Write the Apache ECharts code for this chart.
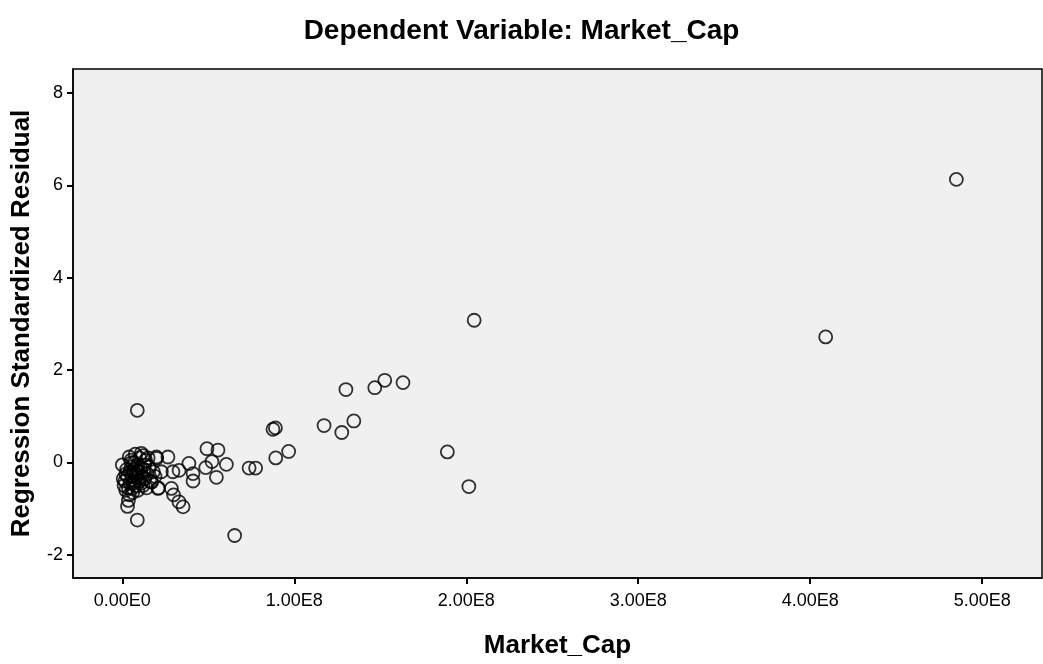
<!DOCTYPE html>
<html>
<head>
<meta charset="utf-8">
<script src="https://cdn.jsdelivr.net/npm/echarts@6/dist/echarts.min.js"></script>
<style>
  html, body { margin: 0; padding: 0; background: #fff; }
  #chart { width: 1043px; height: 664px; }
</style>
</head>
<body>
<div id="chart"></div>
<script>
// Market_Cap in units of 1E8, paired with standardized residual
var marketCap = [
    4.85, 4.09, 2.046, 1.89, 2.015,
    1.30, 1.468, 1.526, 1.632, 1.173, 1.276, 1.346, 0.876, 0.89, 0.892, 0.967,
    0.492, 0.556, 0.521, 0.485, 0.605, 0.547, 0.737, 0.775, 0.653,
    0.387, 0.411, 0.411, 0.33, 0.294, 0.265, 0.198, 0.227, 0.207, 0.285, 0.298, 0.329, 0.353, 0.169,
    0.087, 0.087,
    0.00, 0.005, 0.01, 0.02, 0.02, 0.025, 0.03, 0.035, 0.04, 0.045, 0.04, 0.05, 0.05, 0.055, 0.06,
    0.06, 0.065, 0.07, 0.07, 0.075, 0.08, 0.085, 0.09, 0.09, 0.095, 0.10, 0.10, 0.105, 0.11, 0.115,
    0.12, 0.12, 0.125, 0.13, 0.135, 0.14, 0.145, 0.15, 0.155, 0.16, 0.17, 0.18, 0.19, 0.20, 0.21,
    0.015, 0.03, 0.045, 0.065, 0.08, 0.11, 0.13, 0.035, 0.055, 0.075
];
var residual = [
    6.13, 2.72, 3.08, 0.23, -0.52,
    1.58, 1.62, 1.78, 1.73, 0.80, 0.65, 0.90, 0.72, 0.75, 0.10, 0.24,
    0.30, 0.27, 0.02, -0.11, -0.04, -0.32, -0.12, -0.12, -1.58,
    -0.02, -0.24, -0.40, -0.17, -0.20, 0.12, 0.12, -0.20, -0.56, -0.56, -0.70, -0.85, -0.96, -0.42,
    1.13, -1.245,
    -0.05, -0.35, -0.50, -0.60, -0.25, -0.15, -0.95, -0.82, -0.70, -0.45, 0.12, 0.05, -0.10, -0.30, -0.55,
    -0.65, -0.20, -0.40, 0.00, -0.15, -0.50, -0.30, -0.60, -0.05, -0.20, -0.40, 0.10, -0.10, 0.20, -0.30,
    -0.50, 0.15, -0.15, -0.35, 0.05, -0.55, -0.25, 0.10, -0.10, -0.40, -0.42, -0.20, -0.30, 0.09, -0.55,
    -0.40, -0.30, -0.20, -0.45, -0.25, -0.45, -0.05, -0.55, 0.00, 0.18
];
var xTicks = [0, 1, 2, 3, 4, 5];
var yTicks = [-2, 0, 2, 4, 6, 8];

var points = marketCap.map(function (v, i) { return [v, residual[i]]; });

var chart = echarts.init(document.getElementById('chart'));
var option = {
    backgroundColor: '#fff',
    animation: false,
    title: {
        text: 'Dependent Variable: Market_Cap',
        left: 'center',
        top: 12,
        textStyle: {
            fontFamily: 'Liberation Sans',
            fontWeight: 'bold',
            fontSize: 28,
            color: '#000'
        }
    },
    grid: {
        left: 73,
        top: 69,
        right: 1,
        bottom: 83,
        show: true,
        backgroundColor: '#f0f0f0',
        borderColor: '#000',
        borderWidth: 1.5
    },
    xAxis: {
        type: 'value',
        min: -0.287,
        max: 5.348,
        name: 'Market_Cap',
        nameLocation: 'middle',
        nameGap: 55,
        nameTextStyle: {
            fontFamily: 'Liberation Sans',
            fontWeight: 'bold',
            fontSize: 26,
            color: '#000'
        },
        splitLine: { show: false },
        axisLine: { show: true, onZero: false, lineStyle: { color: '#000', width: 1.5 } },
        axisTick: { show: true, customValues: xTicks, length: 6, lineStyle: { color: '#000', width: 2 } },
        axisLabel: {
            customValues: xTicks,
            margin: 14,
            fontFamily: 'Liberation Sans',
            fontSize: 18,
            color: '#000',
            formatter: function (v) {
                return v === 0 ? '0.00E0' : v.toFixed(2) + 'E8';
            }
        }
    },
    yAxis: {
        type: 'value',
        min: -2.5,
        max: 8.52,
        name: 'Regression Standardized Residual',
        nameLocation: 'middle',
        nameGap: 38,
        nameTextStyle: {
            fontFamily: 'Liberation Sans',
            fontWeight: 'bold',
            fontSize: 26,
            color: '#000'
        },
        splitLine: { show: false },
        axisLine: { show: true, onZero: false, lineStyle: { color: '#000', width: 1.5 } },
        axisTick: { show: true, customValues: yTicks, length: 6, lineStyle: { color: '#000', width: 2 } },
        axisLabel: {
            customValues: yTicks,
            margin: 10,
            fontFamily: 'Liberation Sans',
            fontSize: 18,
            color: '#000'
        }
    },
    series: [{
        type: 'scatter',
        data: points,
        symbol: 'circle',
        symbolSize: 13,
        itemStyle: {
            color: 'rgba(0,0,0,0)',
            borderColor: '#000',
            borderWidth: 1.8
        }
    }]
};
chart.setOption(option);
</script>
</body>
</html>
